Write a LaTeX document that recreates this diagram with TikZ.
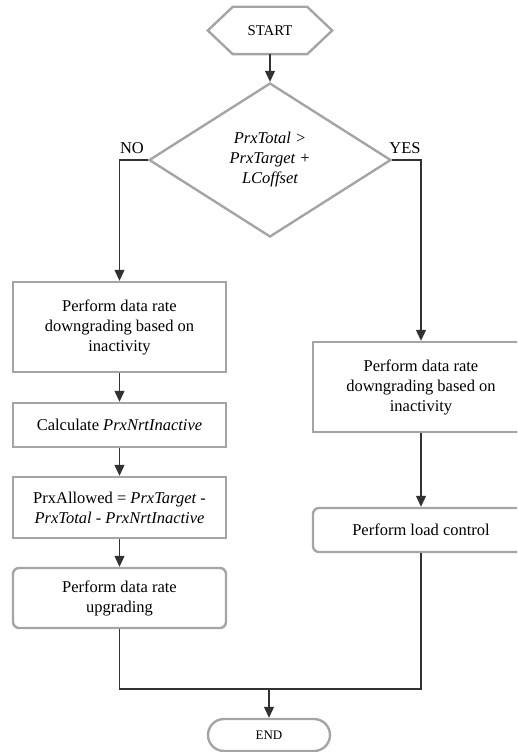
\documentclass[tikz,border=0pt]{standalone}
\usepackage{fontspec}
\setmainfont{Liberation Serif}
\usetikzlibrary{shapes.geometric,arrows.meta}

\definecolor{boxgray}{RGB}{165,165,165}
\definecolor{linegray}{RGB}{50,50,50}

\tikzset{
  base/.style={draw=boxgray, line width=2.4pt, align=center, inner sep=0pt,
    font=\fontsize{16.5}{20}\selectfont, text=black},
  procbox/.style={base, rectangle, minimum width=213pt},
  rprocbox/.style={base, rectangle, minimum width=216pt},
  roundbox/.style={rounded corners=6pt},
  decision/.style={base, diamond, aspect=1.57, minimum width=242pt, minimum height=154pt,
    font=\fontsize{16.5}{20}\selectfont\itshape},
  terminal/.style={base, rectangle, rounded corners=16pt, minimum width=122pt, minimum height=32pt,
    font=\fontsize{13}{15}\selectfont},
  startlabel/.style={inner sep=0pt, minimum width=124pt, minimum height=47pt,
    font=\fontsize{14.8}{17}\selectfont},
  hexline/.style={draw=boxgray, line width=2.4pt, line join=miter},
  conn/.style={draw=linegray, line width=1.2pt},
  arr/.style={conn, -{Triangle[length=11pt,width=10pt]}},
  branch/.style={font=\fontsize{16.5}{20}\selectfont, inner sep=0pt, anchor=base},
}

\begin{document}
\begin{tikzpicture}[x=1pt, y=-1pt]
  \clip (0,0) rectangle (517,752);
  \useasboundingbox (0,0) rectangle (517,752);

  % start terminal (hexagon)
  \node[startlabel] (start) at (270,30.5) {START};
  \draw[hexline] (start.west) -- ([xshift=25pt]start.north west) -- ([xshift=-25pt]start.north east)
     -- (start.east) -- ([xshift=-25pt]start.south east) -- ([xshift=25pt]start.south west) -- cycle;

  % decision
  \node[decision] (dec) at (270,160) {PrxTotal >\\PrxTarget +\\LCoffset};

  % left branch
  \node[procbox, minimum height=90pt] (l1) at (119.5,327) {Perform data rate\\downgrading based on\\inactivity};
  \node[procbox, minimum height=44pt] (l2) at (119.5,425) {Calculate \textit{PrxNrtInactive}};
  \node[procbox, minimum height=61pt] (l3) at (119.5,507.5) {PrxAllowed = \textit{PrxTarget -}\\\textit{PrxTotal - PrxNrtInactive}};
  \node[procbox, roundbox, minimum height=60pt] (l4) at (119.5,598) {Perform data rate\\upgrading};

  % right branch
  \node[rprocbox, minimum height=90pt] (r1) at (421,387) {Perform data rate\\downgrading based on\\inactivity};
  \node[rprocbox, roundbox, minimum height=44pt] (r2) at (421,530) {Perform load control};

  % end terminal
  \node[terminal] (end) at (269,735) {END};

  % connectors
  \coordinate (nocorner) at (119.5,160);
  \coordinate (yescorner) at (421,160);
  \coordinate (joinl) at (119.5,689);
  \coordinate (joinr) at (421,689);
  \coordinate (joinm) at (269,689);

  \draw[arr] (start.south) -- (dec.north);
  \draw[arr] (dec.west) -- (nocorner) -- (l1.north);
  \draw[arr] (dec.east) -- (yescorner) -- (r1.north);
  \draw[arr] (l1) -- (l2);
  \draw[arr] (l2) -- (l3);
  \draw[arr] (l3) -- (l4);
  \draw[arr] (r1) -- (r2);
  \draw[conn] (l4.south) -- (joinl) -- (joinr) -- (r2.south);
  \draw[arr] (joinm) -- (end.north);

  \node[branch] (no) at (132,153) {NO};
  \node[branch] (yes) at (405,153) {YES};
\end{tikzpicture}
\end{document}
